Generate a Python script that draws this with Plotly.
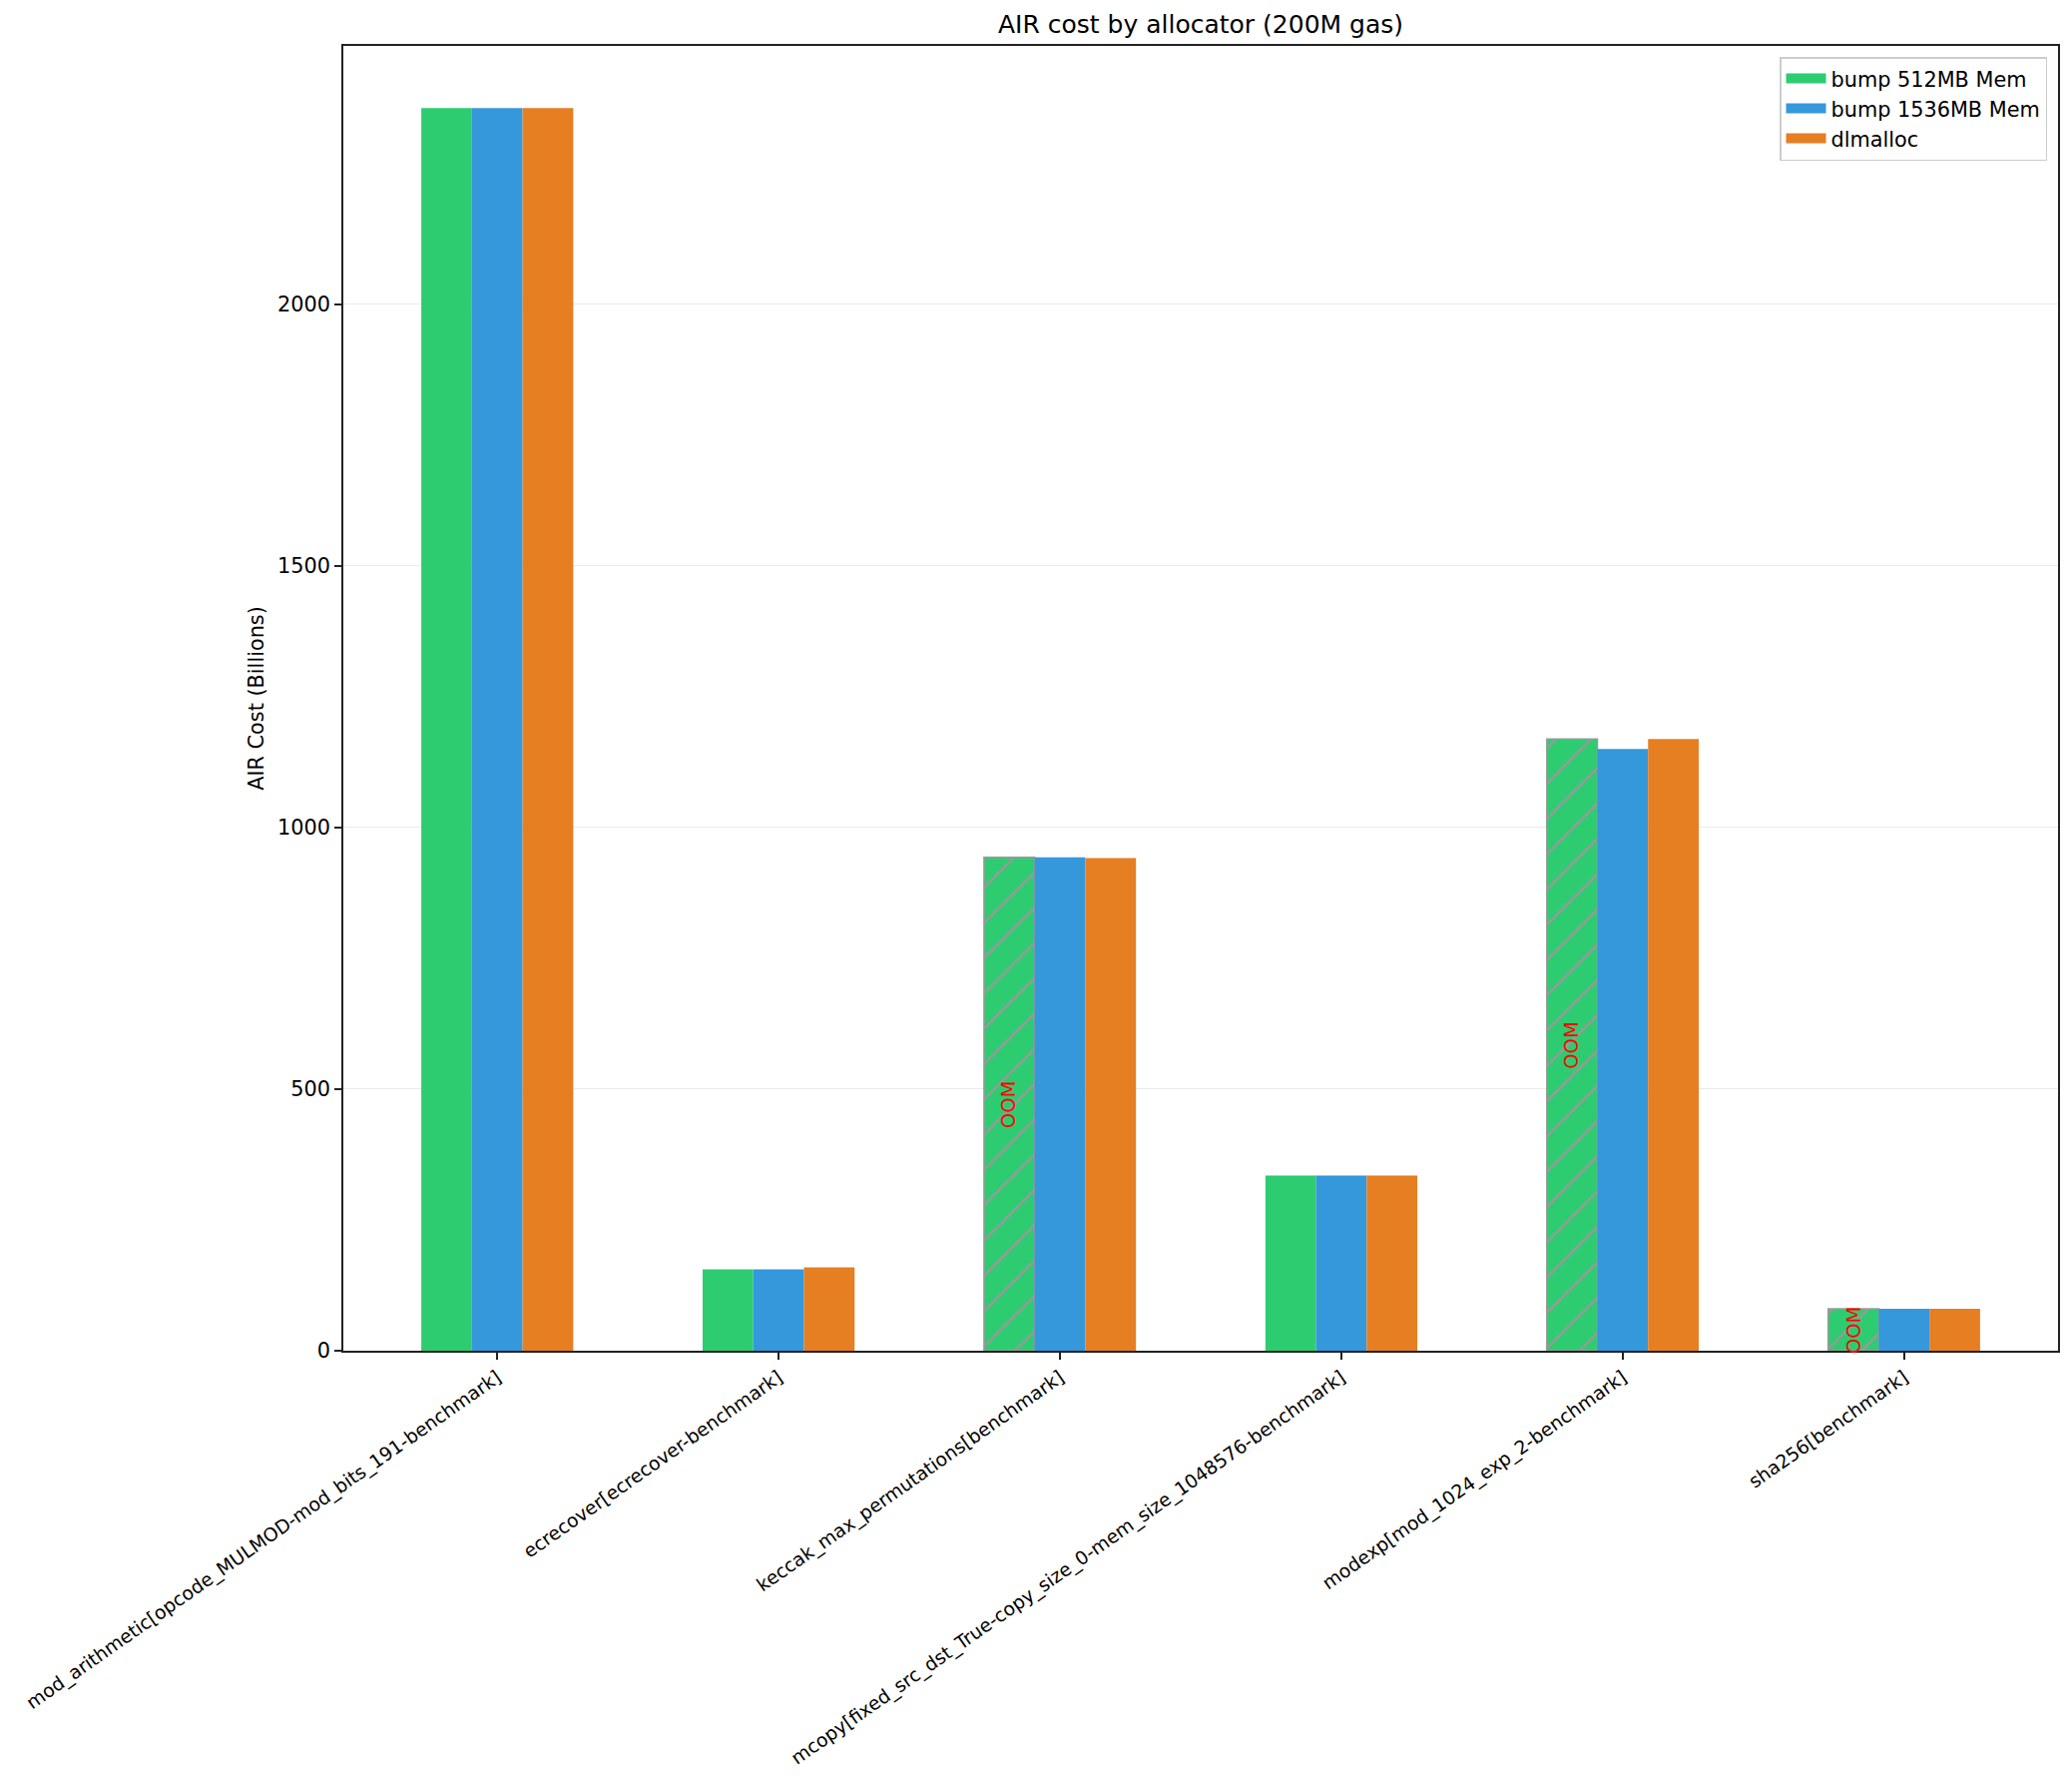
import plotly.graph_objects as go

categories = [
    "mod_arithmetic[opcode_MULMOD-mod_bits_191-benchmark]",
    "ecrecover[ecrecover-benchmark]",
    "keccak_max_permutations[benchmark]",
    "mcopy[fixed_src_dst_True-copy_size_0-mem_size_1048576-benchmark]",
    "modexp[mod_1024_exp_2-benchmark]",
    "sha256[benchmark]",
]
series_names = ["bump 512MB Mem", "bump 1536MB Mem", "dlmalloc"]
bump512 = [2375, 155.6, 943, 335, 1169, 80]
bump1536 = [2375, 155.6, 943, 335, 1150, 80]
dlmalloc = [2375, 159.4, 941.5, 335, 1169, 80]
oom_512 = [False, False, True, False, True, True]

colors = ["#2ecc71", "#3498db", "#e67e22"]
FONT = "DejaVu Sans"
BAR_W = 0.18

xs = list(range(len(categories)))
fig = go.Figure()
all_vals = [bump512, bump1536, dlmalloc]
for k, (name, vals, col) in enumerate(zip(series_names, all_vals, colors)):
    if k == 0:
        shapes = ["/" if o else "" for o in oom_512]
        lw = [1.5 if o else 0 for o in oom_512]
        lc = ["#999999" if o else col for o in oom_512]
        marker = dict(color=col,
                      line=dict(color=lc, width=lw),
                      pattern=dict(shape=shapes, fgcolor="#999999", bgcolor=col, size=25,
                                   solidity=0.1, fillmode="overlay", fgopacity=1))
    else:
        marker = dict(color=col, line=dict(width=0))
    fig.add_trace(go.Bar(x=xs, y=vals, name=name, marker=marker, showlegend=False,
                         offset=(k - 1.5) * BAR_W, width=BAR_W))
    # legend proxy with a wide rectangular swatch
    fig.add_trace(go.Scatter(x=[None], y=[None], mode="lines", name=name,
                             line=dict(color=col, width=14), showlegend=True))

for i, (o, v) in enumerate(zip(oom_512, bump512)):
    if o:
        fig.add_annotation(x=i - BAR_W, y=v / 2, text="OOM", textangle=-90,
                           showarrow=False, xref="x", yref="y",
                           font=dict(color="red", size=19.5, family=FONT))

ymax = max(max(s) for s in all_vals) * 1.05
axis_common = dict(showline=True, linecolor="#222222", linewidth=1.6, mirror=True,
                   ticks="outside", ticklen=7, tickwidth=1.6, tickcolor="#222222",
                   zeroline=False)
fig.update_layout(
    width=2076, height=1785,
    margin=dict(l=344, r=14, t=46, b=432, autoexpand=False),
    paper_bgcolor="white", plot_bgcolor="white",
    font=dict(family=FONT, size=20.8, color="black"),
    title=dict(text="AIR cost by allocator (200M gas)", x=0.5, xref="paper",
               y=1 - 24 / 1785, yref="container", yanchor="middle", xanchor="center",
               font=dict(size=25, family=FONT, color="black")),
    xaxis=dict(range=[-0.547, len(categories) - 1 + 0.547], tickvals=xs, ticktext=categories,
               tickangle=-35, tickfont=dict(size=18.75, family=FONT), showgrid=False,
               **axis_common),
    yaxis=dict(range=[0, ymax], tickvals=[0, 500, 1000, 1500, 2000], showgrid=True,
               gridcolor="#ebebeb", gridwidth=1.2,
               title=dict(text="AIR Cost (Billions)", standoff=8,
                          font=dict(size=20.8, family=FONT)),
               tickfont=dict(size=20.8, family=FONT), **axis_common),
    legend=dict(x=(2051 - 344) / 1718, y=(1353 - 57) / 1307, xanchor="right", yanchor="top",
                bgcolor="rgba(255,255,255,0.8)", bordercolor="#cccccc", borderwidth=1.5,
                font=dict(size=20.8, family=FONT), itemwidth=40,
                tracegroupgap=0),
    showlegend=True,
    barmode="overlay",
)
fig.write_html("out.html")
